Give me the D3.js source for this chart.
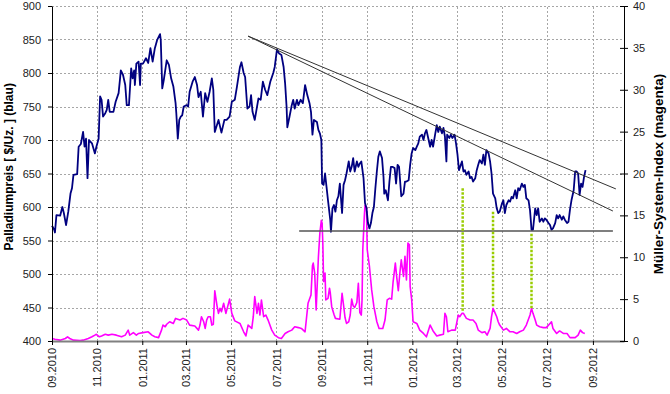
<!DOCTYPE html>
<html>
<head>
<meta charset="utf-8">
<title>Palladium / Mueller-System-Index</title>
<script src="https://cdn.jsdelivr.net/npm/d3@7"></script>
<style>
    body {
        margin:0;
        background:#fff;
    }
    svg text {
        font-family:"Liberation Sans", Arial, sans-serif;
    }
    .grid line {
        stroke:#a6a6a6;
        stroke-dasharray:2,2;
    }
</style>
</head>
<body>
<svg id="chart" width="670" height="394"></svg>
<script>
// days counted from 01.09.2010
const startDate = new Date(2010, 8, 1);
const endDay = 773;

const monthTicks = ["2010-09","2010-11","2011-01","2011-03","2011-05","2011-07","2011-09",
    "2011-11","2012-01","2012-03","2012-05","2012-07","2012-09"];
const priceTicks = [400,450,500,550,600,650,700,750,800,850,900];
const indexTicks = [0,5,10,15,20,25,30,35,40];

// palladium price ($/oz), blue
const priceDays = [
    0,3,4,6,11,14,16,19,22,25,
    27,29,34,36,39,42,44,46,48,50,
    54,58,60,63,65,67,69,72,74,76,
    78,83,86,90,92,93,96,99,101,104,
    107,109,111,112,114,117,119,120,123,127,
    130,133,136,139,142,146,147,149,151,155,
    158,161,164,167,168,170,172,174,176,178,
    182,184,186,190,193,196,198,201,204,207,
    210,213,216,218,220,225,229,233,236,240,
    243,247,250,254,256,259,261,264,267,269,
    271,274,279,282,285,288,291,295,299,301,
    304,307,310,313,315,317,318,321,324,326,
    328,331,333,336,339,342,345,348,350,352,
    354,358,360,362,364,365,367,369,371,373,
    376,377,379,381,383,385,387,389,392,394,
    396,398,401,403,405,407,409,412,414,416,
    418,421,423,425,427,429,431,433,435,437,
    439,441,443,446,448,449,451,454,456,458,
    460,463,465,467,469,472,475,477,479,482,
    484,486,488,491,493,495,497,500,502,504,
    506,509,511,513,515,518,520,522,524,527,
    529,531,533,534,537,539,541,544,546,548,
    550,554,556,558,560,563,565,567,569,572,
    574,576,578,581,583,585,587,590,592,594,
    596,599,601,603,605,608,610,612,614,617,
    619,621,623,626,628,630,632,635,637,639,
    641,644,646,647,648,650,653,655,657,659,
    662,664,666,668,671,673,675,677,680,682,
    684,686,689,691,693,696,698,700,702,705,
    707,709,711,713,715,717,719,721
];
const priceValues = [
    572,566,562,588,587,600,591,573,593,620,
    628,648,649,690,694,712,690,702,643,700,
    695,680,690,702,765,760,735,740,745,760,
    742,742,757,770,792,804,797,782,752,752,
    807,792,804,782,814,817,782,814,814,822,
    815,837,817,837,849,858,849,777,789,819,
    812,792,780,755,740,702,730,735,737,750,
    752,750,772,787,794,782,764,772,735,770,
    757,772,792,775,712,730,711,730,730,735,
    757,760,780,809,816,800,794,747,750,767,
    742,730,762,760,787,775,767,787,800,809,
    835,829,827,809,785,750,719,735,752,760,
    747,760,752,760,755,782,767,755,742,708,
    730,727,715,710,700,635,633,650,630,610,
    581,563,598,603,593,610,616,635,591,633,
    640,650,668,653,660,673,653,668,660,665,
    668,643,606,598,576,568,576,591,600,628,
    653,675,683,673,645,620,625,610,638,660,
    660,658,635,663,660,616,620,638,638,640,
    663,680,688,685,690,695,705,708,700,710,
    715,700,690,700,690,710,722,712,720,710,
    718,705,668,708,703,708,703,708,695,678,
    655,668,653,655,648,653,643,645,638,643,
    655,663,670,665,678,663,685,680,668,650,
    620,613,598,591,593,605,610,591,603,610,
    608,615,613,625,613,628,625,635,630,633,
    613,610,595,581,566,566,598,588,598,578,
    583,578,583,581,576,573,566,568,576,588,
    583,588,581,586,581,576,578,596,610,625,
    653,653,650,618,635,630,645,655
];

// Mueller-System-Index, magenta
const indexDays = [
    0,4,11,18,21,24,29,38,42,49,
    54,58,60,64,67,72,76,81,87,94,
    99,103,105,110,114,117,123,130,135,139,
    144,148,150,153,155,159,164,167,173,177,
    182,186,193,198,200,202,205,207,209,211,
    214,216,218,220,223,225,227,229,232,235,
    240,243,247,254,259,262,265,270,272,274,
    277,279,281,283,286,289,292,297,301,306,
    310,315,319,324,328,333,337,342,346,350,
    352,353,355,357,360,362,364,365,366,367,
    369,370,373,375,376,378,381,383,389,392,
    394,396,398,401,403,405,407,409,412,414,
    416,418,419,420,422,423,425,426,429,432,
    435,439,442,447,450,453,456,459,461,464,
    466,468,470,472,475,477,479,481,483,484,
    486,488,493,497,502,506,511,515,520,524,
    529,531,533,535,540,545,549,551,554,556,
    560,565,569,573,576,581,585,588,592,594,
    596,599,601,603,605,610,614,619,623,628,
    632,637,641,646,648,650,653,655,659,664,
    668,673,675,677,682,686,691,696,700,707,
    711,714,717,720
];
const indexValues = [
    0.3,0.2,0.1,0.3,0.5,0.3,0.1,0.05,0.1,0.3,
    0.5,0.7,0.8,0.5,0.6,0.8,0.7,0.8,0.7,0.5,
    0.7,1.3,0.7,1.0,0.7,0.9,1.0,1.1,0.7,0.5,
    0.4,1.3,1.9,1.7,2.0,2.3,2.1,2.7,2.5,2.7,
    2.5,1.9,1.8,1.3,1.9,2.9,2.3,1.5,2.5,2.9,
    2.9,1.9,2.0,6.0,4.2,3.3,3.9,3.5,4.5,3.3,
    5.0,3.3,2.4,2.1,1.1,0.6,1.9,1.5,2.9,5.3,
    3.3,4.5,3.1,4.9,2.9,3.1,2.5,1.3,0.7,0.4,
    0.3,0.9,1.1,1.3,1.7,1.6,1.5,1.1,4.5,5.5,
    9.0,9.3,8.1,3.7,10.0,12.9,14.4,14.1,11.7,7.1,
    8.1,4.9,5.1,6.3,5.8,4.1,3.2,2.7,2.6,5.7,
    4.3,2.8,2.1,2.3,3.1,5.0,4.2,4.0,4.6,6.9,
    3.4,3.1,4.9,10.9,14.8,16.2,16.0,10.9,8.9,6.1,
    4.1,2.3,1.5,1.5,2.5,4.9,5.1,5.0,7.1,9.3,
    7.5,6.0,8.0,9.7,7.7,10.1,7.3,11.7,11.5,6.5,
    5.0,2.3,2.1,1.3,0.9,0.5,1.9,1.2,0.6,0.7,
    0.8,3.3,2.9,1.1,1.3,1.3,3.1,2.9,3.3,3.3,
    2.7,2.5,2.5,2.1,1.3,1.0,1.1,0.7,1.5,2.9,
    3.9,3.3,2.9,2.3,1.9,1.3,1.5,1.1,1.1,0.9,
    1.1,1.3,1.9,3.1,3.9,3.3,2.5,1.9,1.7,1.6,
    1.6,2.1,2.3,1.5,0.9,1.2,0.9,0.9,0.4,0.4,
    0.7,1.3,1.0,0.9
];

// resistance lines (price) and support line
const trendDays = [[265, 762], [265, 758]];
const trendPrices = [[855, 627], [855, 594]];
const supportDays = [334, 758];
const supportPrice = 564;

// signals: from price down to index peak (green dotted)
const signalDays = [555, 596, 648];
const signalPrices = [628, 593, 560];
const signalIndex = [3.5, 4.0, 3.9];

const dims = { width: 670, height: 394 };
const margins = { left: 52, right: 46, top: 6, bottom: 53 };

const toDate = (d) => d3.timeDay.offset(startDate, d);

const xScale = d3.scaleTime()
    .domain([startDate, toDate(endDay)])
    .range([margins.left, dims.width - margins.right]);
const yPrice = d3.scaleLinear()
    .domain([400, 900])
    .range([dims.height - margins.bottom, margins.top]);
const yIndex = d3.scaleLinear()
    .domain([0, 40])
    .range([dims.height - margins.bottom, margins.top]);

const svg = d3.select('#chart');
const tickDates = monthTicks.map(d3.timeParse("%Y-%m"));

// grid
const grid = svg.append("g").attr("class", "grid");
grid.selectAll(".hgrid")
    .data(priceTicks.slice(1))
    .enter().append("line")
    .attr("x1", xScale.range()[0]).attr("x2", xScale.range()[1])
    .attr("y1", d => Math.round(yPrice(d)) + 0.5)
    .attr("y2", d => Math.round(yPrice(d)) + 0.5);
grid.selectAll(".vgrid")
    .data(tickDates.slice(1))
    .enter().append("line")
    .attr("x1", d => Math.round(xScale(d)) + 0.5)
    .attr("x2", d => Math.round(xScale(d)) + 0.5)
    .attr("y1", yPrice.range()[0]).attr("y2", yPrice.range()[1]);

// series
const indexLine = d3.line()
    .x((d, i) => xScale(toDate(indexDays[i])))
    .y(d => yIndex(d));
svg.append("path")
    .datum(indexValues)
    .attr("d", indexLine)
    .attr("fill", "none")
    .attr("stroke", "#ff00ff")
    .attr("stroke-width", 1.6)
    .attr("stroke-linejoin", "round");

const priceLine = d3.line()
    .x((d, i) => xScale(toDate(priceDays[i])))
    .y(d => yPrice(d));
svg.append("path")
    .datum(priceValues)
    .attr("d", priceLine)
    .attr("fill", "none")
    .attr("stroke", "#000080")
    .attr("stroke-width", 1.8)
    .attr("stroke-linejoin", "round");

// trend lines
trendDays.forEach((td, i) => {
    svg.append("line")
        .attr("x1", xScale(toDate(td[0]))).attr("y1", yPrice(trendPrices[i][0]))
        .attr("x2", xScale(toDate(td[1]))).attr("y2", yPrice(trendPrices[i][1]))
        .attr("stroke", "#333")
        .attr("stroke-width", 1);
});
svg.append("line")
    .attr("x1", xScale(toDate(supportDays[0]))).attr("x2", xScale(toDate(supportDays[1])))
    .attr("y1", yPrice(supportPrice)).attr("y2", yPrice(supportPrice))
    .attr("stroke", "#555")
    .attr("stroke-width", 1.5);

// signal markers
signalDays.forEach((sd, i) => {
    svg.append("line")
        .attr("x1", xScale(toDate(sd))).attr("x2", xScale(toDate(sd)))
        .attr("y1", yPrice(signalPrices[i])).attr("y2", yIndex(signalIndex[i]))
        .attr("stroke", "#99cc00")
        .attr("stroke-width", 2.5)
        .attr("stroke-dasharray", "2.5,1.5");
});

// axes
const xAxis = d3.axisBottom(xScale)
    .tickValues(tickDates)
    .tickSize(4)
    .tickSizeOuter(0)
    .tickFormat(d3.timeFormat("%m.%Y"));
const gx = svg.append("g")
    .attr("transform", `translate(0, ${yPrice.range()[0]})`)
    .call(xAxis);
gx.select(".domain").attr("stroke", "#808080").attr("stroke-width", 2);
gx.selectAll(".tick line").attr("stroke", "#000");
gx.selectAll("text")
    .attr("transform", "rotate(-90)")
    .attr("x", -7).attr("y", 0).attr("dy", "0.35em")
    .style("text-anchor", "end")
    .style("font-size", "11px")
    .attr("fill", "#222");

const yAxisL = d3.axisLeft(yPrice)
    .tickValues(priceTicks)
    .tickSize(4)
    .tickSizeOuter(0)
    .tickPadding(7);
const gl = svg.append("g")
    .attr("transform", `translate(${xScale.range()[0]}, 0)`)
    .call(yAxisL);
gl.selectAll("text").style("font-size", "11px").attr("fill", "#222");

const yAxisR = d3.axisRight(yIndex)
    .tickValues(indexTicks)
    .tickSize(4)
    .tickSizeOuter(0)
    .tickPadding(5);
const gr = svg.append("g")
    .attr("transform", `translate(${xScale.range()[1]}, 0)`)
    .call(yAxisR);
gr.selectAll(".tick line").attr("x1", -4);
gr.selectAll("text").style("font-size", "11px").attr("fill", "#222");

// axis titles
svg.append("text")
    .attr("transform", `translate(13, ${yPrice(660)}) rotate(-90)`)
    .attr("text-anchor", "middle")
    .style("font-size", "12px")
    .style("font-weight", "bold")
    .text("Palladiumpreis [ $/Uz. ] (blau)");
svg.append("text")
    .attr("transform", `translate(663, 174) rotate(-90)`)
    .attr("text-anchor", "middle")
    .style("font-size", "13.5px")
    .style("font-weight", "bold")
    .text("Müller-System-Index (magenta)");
</script>
</body>
</html>
